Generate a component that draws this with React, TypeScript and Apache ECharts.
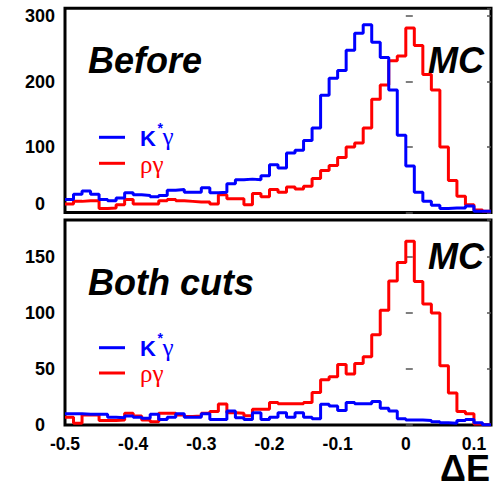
import React, { useEffect, useRef } from "react";
import * as echarts from "echarts";

// Histogram binning of ΔE
const X_MIN = -0.5;
const X_MAX = 0.125;
const BIN_WIDTH = 0.0125;

// Panel 1: "Before"
const beforeKstarGamma = [
  20, 28, 33, 28, 20, 18, 22, 30, 27, 26, 24, 26, 34, 35, 31, 31, 38, 30, 31, 44,
  50, 51, 50, 56, 73, 68, 91, 95, 110, 129, 179, 205, 217, 248, 274, 287, 260, 237, 187, 118,
  71, 31, 17, 11, 6, 7, 7, 10, 2, 2,
];
const beforeRhoGamma = [
  13, 17, 18, 18, 6, 7, 12, 20, 13, 13, 13, 18, 20, 18, 17, 16, 16, 13, 27, 21,
  21, 12, 29, 24, 35, 31, 39, 36, 40, 52, 64, 72, 84, 100, 106, 129, 173, 195, 232, 239,
  282, 255, 211, 187, 100, 49, 25, 12, 4, 2,
];

// Panel 2: "Both cuts"
const cutsKstarGamma = [
  10, 10, 9.5, 9.5, 9.5, 7, 6.5, 8, 7, 6, 9.5, 5, 7, 10, 7, 7, 10, 5, 5, 12.5,
  6.5, 5, 11, 5, 7, 11, 7, 11, 7, 5.5, 18.5, 17, 13, 20, 19, 19, 21, 15, 12.5, 5.5,
  4.5, 4.5, 4, 3, 2, 1.5, 4, 5, 2, 0.3,
];
const cutsRhoGamma = [
  7, 1.5, 9, 9, 4, 4, 4.5, 10.5, 8, 4.5, 3, 10.5, 10.5, 9, 7.5, 8, 10.5, 12, 18.7, 11,
  10.4, 8.3, 14, 14, 20, 19, 19, 19, 20, 29, 40.5, 43, 54, 45.5, 55, 61, 80.5, 102.5, 128.5, 145,
  164, 128, 108, 100, 53, 28.5, 12, 10, 1, 0.3,
];

const TOP_Y_MAX = 312;
const TOP_Y_INTERVAL = 100;
const BOT_Y_MAX = 183;
const BOT_Y_INTERVAL = 50;
const X_INTERVAL = 0.1;

const FONT = "Liberation Sans";
const SERIF = "Liberation Serif";
const BLUE = "#0000ff";
const RED = "#ff0000";

function toSteps(values: number[]): number[][] {
  const pts = values.map((v, i) => [X_MIN + i * BIN_WIDTH, v]);
  pts.push([X_MIN + values.length * BIN_WIDTH, values[values.length - 1]]);
  return pts;
}

export default function App() {
  const ref = useRef<HTMLDivElement>(null);

  useEffect(() => {
    if (!ref.current) return;
    const chart = echarts.init(ref.current, undefined, { renderer: "svg" });

    const grids = [
      { left: 65, right: 4, top: 8.3, height: 204.2 },
      { left: 65, right: 4, top: 220, height: 205 },
    ];

    const yLabelStyle = (topPanel: boolean) => ({
      show: true,
      fontFamily: FONT,
      fontWeight: "bold" as const,
      fontSize: 18,
      color: "#000",
      margin: 10,
      showMaxLabel: false,
      formatter: (v: number) => (v === 0 ? "{z|0}" : String(v)),
      rich: {
        z: {
          fontFamily: FONT,
          fontWeight: "bold" as const,
          fontSize: 18,
          color: "#000",
          padding: topPanel ? [0, 10, 18, 0] : [0, 10, 0, 0],
        },
      },
    });

    const leftY = (gridIndex: number, max: number, interval: number) => ({
      type: "value" as const,
      gridIndex,
      position: "left" as const,
      min: 0,
      max,
      interval,
      axisLine: { show: false },
      axisTick: { show: true, inside: true, length: 7, lineStyle: { color: "#555", width: 1.5 } },
      splitLine: { show: false },
      axisLabel: yLabelStyle(gridIndex === 0),
    });
    const rightY = (gridIndex: number, max: number, interval: number) => ({
      type: "value" as const,
      gridIndex,
      position: "right" as const,
      min: 0,
      max,
      interval,
      axisLine: { show: false },
      axisTick: { show: true, inside: true, length: 4, lineStyle: { color: "#555", width: 1.5 } },
      splitLine: { show: false },
      axisLabel: { show: false },
    });

    const xAxisBase = (gridIndex: number, showLabels: boolean) => ({
      type: "value" as const,
      gridIndex,
      min: X_MIN,
      max: X_MAX,
      interval: X_INTERVAL,
      axisLine: { show: false },
      axisTick: { show: false },
      splitLine: { show: false },
      axisLabel: {
        show: showLabels,
        fontFamily: FONT,
        fontWeight: "bold" as const,
        fontSize: 17.5,
        color: "#000",
        margin: 10,
        showMinLabel: true,
        showMaxLabel: false,
        formatter: (v: number) => (Math.abs(v) < 1e-9 ? "0" : String(+v.toFixed(1))),
      },
    });

    const stepSeries = (name: string, data: number[], color: string, xi: number, yi: number) => ({
      name,
      type: "line" as const,
      step: "end" as const,
      xAxisIndex: xi,
      yAxisIndex: yi,
      data: toSteps(data),
      showSymbol: false,
      symbol: "none",
      lineStyle: { color, width: 3 },
      itemStyle: { color },
      z: 3,
    });

    const legendBlock = (lineY1: number, lineY2: number) => [
      { type: "line", shape: { x1: 99, y1: lineY1, x2: 125, y2: lineY1 }, style: { stroke: BLUE, lineWidth: 3 } },
      { type: "line", shape: { x1: 99, y1: lineY2, x2: 125, y2: lineY2 }, style: { stroke: RED, lineWidth: 3 } },
      {
        type: "text",
        style: { text: "K", x: 140, y: lineY1 + 0.8, font: `bold 22px ${FONT}`, fill: BLUE, verticalAlign: "middle" },
      },
      {
        type: "text",
        style: { text: "*", x: 157.5, y: lineY1 - 9.5, font: `bold 14px ${FONT}`, fill: BLUE, verticalAlign: "middle" },
      },
      {
        type: "text",
        style: { text: "γ", x: 162.5, y: lineY1 - 0.5, font: `25px ${SERIF}`, fill: BLUE, verticalAlign: "middle" },
      },
      {
        type: "text",
        style: { text: "ργ", x: 140, y: lineY2 + 0.8, font: `25px ${SERIF}`, fill: RED, verticalAlign: "middle" },
      },
    ];

    const bigText = (text: string, x: number, y: number, align: string, italic = true, size = 36) => ({
      type: "text",
      z: 10,
      style: {
        text,
        x,
        y,
        font: `${italic ? "italic " : ""}bold ${size}px ${FONT}`,
        lineHeight: 28,
        fill: "#000",
        align,
        verticalAlign: "middle",
      },
    });

    chart.setOption({
      animation: false,
      backgroundColor: "#fff",
      grid: grids.map((g) => ({ ...g, show: true, borderColor: "#000", borderWidth: 3, backgroundColor: "transparent" })),
      xAxis: [xAxisBase(0, false), xAxisBase(1, true)],
      yAxis: [
        leftY(0, TOP_Y_MAX, TOP_Y_INTERVAL),
        rightY(0, TOP_Y_MAX, TOP_Y_INTERVAL),
        leftY(1, BOT_Y_MAX, BOT_Y_INTERVAL),
        rightY(1, BOT_Y_MAX, BOT_Y_INTERVAL),
      ],
      series: [
        stepSeries("ργ (before)", beforeRhoGamma, RED, 0, 0),
        stepSeries("K*γ (before)", beforeKstarGamma, BLUE, 0, 0),
        stepSeries("ργ (both cuts)", cutsRhoGamma, RED, 1, 2),
        stepSeries("K*γ (both cuts)", cutsKstarGamma, BLUE, 1, 2),
      ],
      graphic: [
        bigText("Before", 88, 60, "left"),
        bigText("MC", 484, 60, "right"),
        bigText("Both cuts", 88, 282.5, "left"),
        bigText("MC", 484, 256, "right"),
        bigText("ΔE", 490, 468.5, "right", false, 36),
        ...legendBlock(137.3, 163.3),
        ...legendBlock(347.7, 373),
      ],
    });

    return () => chart.dispose();
  }, []);

  return (
    <div
      ref={ref}
      style={{ position: "fixed", left: 0, top: 0, width: 495, height: 484, background: "#fff" }}
    />
  );
}
